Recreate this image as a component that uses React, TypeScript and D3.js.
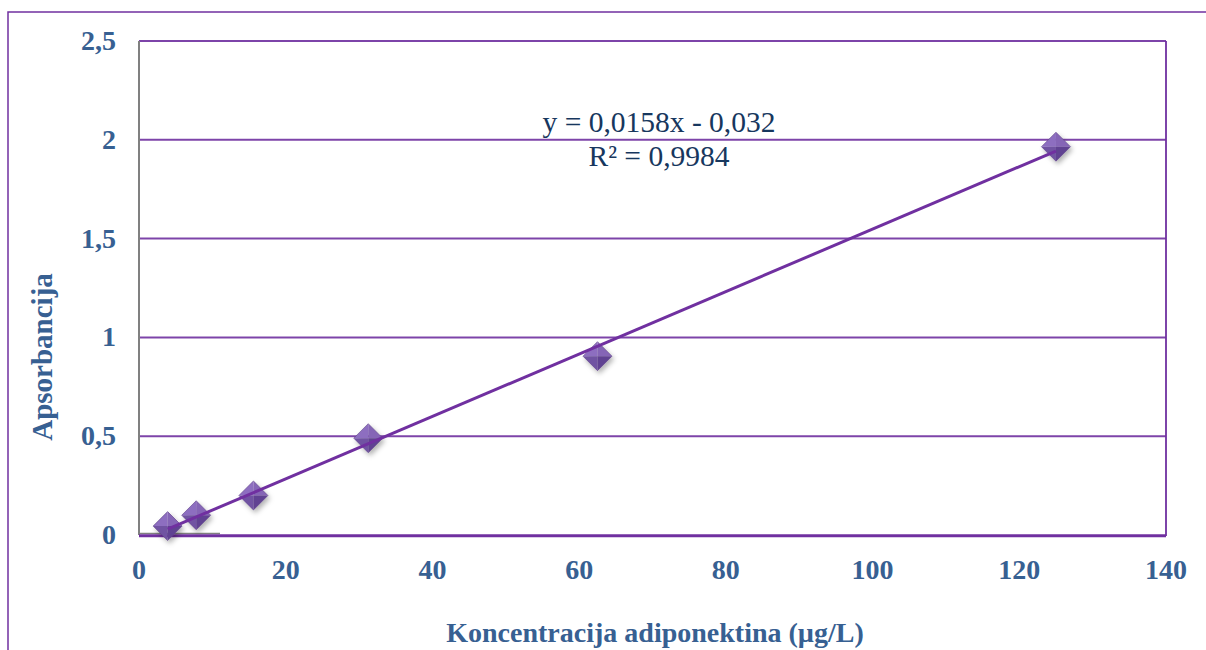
import React from "react";
import * as d3 from "d3";

const concentrations = [3.9, 7.8, 15.6, 31.25, 62.5, 125];
const absorbances = [0.045, 0.1, 0.2, 0.49, 0.905, 1.965];
const xTicks = [0, 20, 40, 60, 80, 100, 120, 140];
const yTicks = [0, 0.5, 1, 1.5, 2, 2.5];
const slope = 0.0158;
const intercept = -0.032;
const equationText = "y = 0,0158x - 0,032";
const r2Text = "R² = 0,9984";
const xTitle = "Koncentracija adiponektina (µg/L)";
const yTitle = "Apsorbancija";

const W = 1206;
const H = 650;
const L = 139, R = 1166, T = 41, B = 535;

export default function App() {
  const x = d3.scaleLinear().domain([0, 140]).range([L, R]);
  const y = d3.scaleLinear().domain([0, 2.5]).range([B, T]);
  const purple = "#7030a0";
  const blue = "#376092";
  const font = "'Liberation Serif', 'Times New Roman', serif";
  const fmt = (v: number) => String(v).replace(".", ",");
  const xMin = d3.min(concentrations)!;
  const xMax = d3.max(concentrations)!;
  const trend = d3.line<number>().x((d) => x(d)).y((d) => y(slope * d + intercept));
  const s = 14.5;
  return (
    <svg width={W} height={H} style={{ position: "absolute", left: 0, top: 0, background: "#fff" }}>
      <defs>
        <filter id="sh" x="-50%" y="-50%" width="200%" height="200%">
          <feDropShadow dx="2" dy="3" stdDeviation="2.5" floodColor="#000" floodOpacity="0.3" />
        </filter>
      </defs>
      <rect x={8} y={12} width={W + 20} height={H + 20} fill="none" stroke={purple} strokeWidth={1.5} />
      {yTicks.filter((t) => t !== 0).map((t) => (
        <line key={"g" + t} x1={L} x2={R} y1={y(t)} y2={y(t)} stroke={purple} strokeWidth={2} opacity={0.9} />
      ))}
      <line x1={R} x2={R} y1={T} y2={B + 1} stroke={purple} strokeWidth={2} opacity={0.9} />
      <line x1={L} x2={L} y1={T} y2={B} stroke="#808080" strokeWidth={2} />
      <line x1={L} x2={220} y1={B - 1.5} y2={B - 1.5} stroke="#808080" strokeWidth={1.5} />
      <line x1={L} x2={R} y1={B + 0.8} y2={B + 0.8} stroke={purple} strokeWidth={3} />
      {yTicks.map((t) => (
        <text key={"yl" + t} x={116} y={y(t) + 9} textAnchor="end" fontFamily={font} fontWeight="bold" fontSize={28} fill={blue}>
          {fmt(t)}
        </text>
      ))}
      {xTicks.map((t) => (
        <text key={"xl" + t} x={x(t)} y={579} textAnchor="middle" fontFamily={font} fontWeight="bold" fontSize={28} fill={blue}>
          {t}
        </text>
      ))}
      <text x={655} y={642} textAnchor="middle" fontFamily={font} fontWeight="bold" fontSize={28} fill={blue}>
        {xTitle}
      </text>
      <text transform={`translate(52,${357}) rotate(-90)`} textAnchor="middle" fontFamily={font} fontWeight="bold" fontSize={29} fill={blue}>
        {yTitle}
      </text>
      {concentrations.map((c, i) => {
        const cx = x(c), cy = y(absorbances[i]);
        return (
          <g key={"m" + i} filter="url(#sh)">
            <polygon points={`${cx},${cy - s} ${cx - s},${cy} ${cx},${cy}`} fill="#8d6ec0" />
            <polygon points={`${cx},${cy - s} ${cx + s},${cy} ${cx},${cy}`} fill="#8565b6" />
            <polygon points={`${cx - s},${cy} ${cx},${cy + s} ${cx},${cy}`} fill="#7052a2" />
            <polygon points={`${cx + s},${cy} ${cx},${cy + s} ${cx},${cy}`} fill="#604392" />
            <polygon points={`${cx},${cy - s} ${cx + s},${cy} ${cx},${cy + s} ${cx - s},${cy}`} fill="none" stroke="#5e4288" strokeWidth={0.6} />
          </g>
        );
      })}
      <path d={trend([xMin, xMax]) || ""} stroke={purple} strokeWidth={3} fill="none" />
      <text x={659} y={132} textAnchor="middle" fontFamily={font} fontSize={29.5} fill="#17375e">
        {equationText}
      </text>
      <text x={659} y={166} textAnchor="middle" fontFamily={font} fontSize={29.5} fill="#17375e">
        {r2Text}
      </text>
    </svg>
  );
}
